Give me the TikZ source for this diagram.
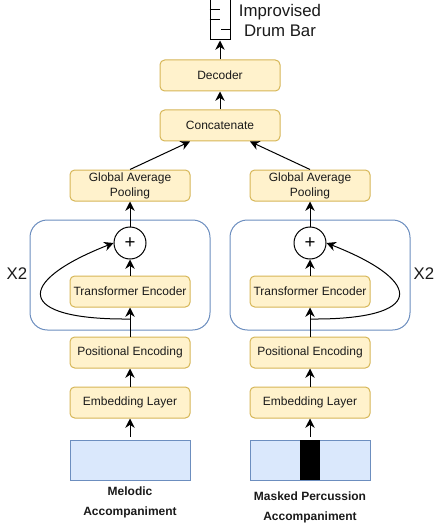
\documentclass[tikz,border=0pt]{standalone}
\usepackage{fontspec}
\setmainfont{Liberation Sans}
\usetikzlibrary{arrows.meta, calc}
\definecolor{blockFill}{HTML}{FFF2CC}
\definecolor{blockDraw}{HTML}{D6B656}
\definecolor{inputFill}{HTML}{DAE8FC}
\definecolor{inputDraw}{HTML}{6C8EBF}
\definecolor{textDark}{HTML}{1A1A1A}

\begin{document}
\begin{tikzpicture}[
  x=0.75pt, y=-0.75pt,
  block/.style={
    rectangle, rounded corners=3.5pt,
    minimum width=90pt, minimum height=23.25pt, inner sep=0pt,
    draw=blockDraw, line width=0.75pt,
    fill=blockFill, text=textDark, align=center,
    font=\fontsize{9}{11.25}\selectfont
  },
  repeatbox/.style={
    rectangle, rounded corners=13pt,
    minimum width=135pt, minimum height=82.5pt,
    draw=inputDraw, line width=0.75pt
  },
  inputbox/.style={
    rectangle, minimum width=90pt, minimum height=30pt, inner sep=0pt,
    draw=inputDraw, line width=0.75pt, fill=inputFill
  },
  addcircle/.style={
    circle, minimum size=24pt, inner sep=0pt,
    draw=black, line width=0.75pt, fill=white,
    font=\fontsize{14}{14}\selectfont
  },
  caption/.style={
    align=center, inner sep=0pt, text=textDark,
    font=\fontsize{9}{15}\selectfont\bfseries
  },
  bigtext/.style={
    align=center, inner sep=0pt, text=textDark,
    font=\fontsize{12.6}{15}\selectfont
  },
  flow/.style={
    draw=black, line width=0.75pt, -{Stealth[length=7pt, width=7pt]}
  },
]
\useasboundingbox (0,0) rectangle (441,531);

% === OUTPUT ===
\node[rectangle, minimum width=15pt, minimum height=30pt, inner sep=0pt,
  draw=black, line width=0.75pt, fill=white] (bar) at (220,20) {};
\draw[line width=0.75pt] (bar.west |- 0,10) -- ++(10,0);
\draw[line width=0.75pt] (bar.west |- 0,20) -- ++(10,0);
\draw[line width=0.75pt] (bar.east |- 0,30) -- ++(-10,0);
\node[bigtext] (title) at (280,20) {Improvised\\[0pt]Drum Bar};

\node[block] (decoder) at (220,75.5) {Decoder};
\node[block] (concat) at (220,125.5) {Concatenate};

% === LEFT BRANCH ===
\node[repeatbox] (rep1) at (120,275) {};
\node[bigtext] (x1) at (17,274) {X2};
\node[block] (pool1) at (130,185.5) {\raisebox{-1pt}{Global Average}\\\raisebox{-1pt}{Pooling}};
\node[addcircle] (add1) at (130,243) {+};
\node[block] (enc1) at (130,291.5) {Transformer Encoder};
\node[block] (pos1) at (130,352.5) {Positional Encoding};
\node[block] (emb1) at (130,402.5) {Embedding Layer};
\node[inputbox] (in1) at (130,460) {};
\node[caption] (cap1) at (130,502) {Melodic\\Accompaniment};
\coordinate (tap1) at (130,319);

% === RIGHT BRANCH ===
\node[repeatbox] (rep2) at (320,275) {};
\node[bigtext] (x2) at (424,274) {X2};
\node[block] (pool2) at (310,185.5) {\raisebox{-1pt}{Global Average}\\\raisebox{-1pt}{Pooling}};
\node[addcircle] (add2) at (310,243) {+};
\node[block] (enc2) at (310,291.5) {Transformer Encoder};
\node[block] (pos2) at (310,352.5) {Positional Encoding};
\node[block] (emb2) at (310,402.5) {Embedding Layer};
\node[inputbox] (in2) at (310,460) {};
\node[rectangle, minimum width=15pt, minimum height=30pt, inner sep=0pt,
  fill=black] (mask) at (310,460) {};
\node[caption] (cap2) at (310,507) {Masked Percussion\\Accompaniment};
\coordinate (tap2) at (310,319);

% Arrows up each branch
\foreach \i in {1,2} {
  \draw[flow, shorten <=2.25pt] (in\i) -- (emb\i);
  \draw[flow] (emb\i) -- (pos\i);
  \draw[flow] (pos\i) -- (enc\i);
  \draw[flow] (enc\i) -- (add\i);
  \draw[flow] (add\i) -- (pool\i);
}

% Skip connections round the encoders
\draw[flow] (tap1) .. controls (15,320) and (14,282) .. (add1.west);
\draw[flow] (tap2) .. controls (425,320) and (426,282) .. (add2.east);

% Merge and output
\draw[flow] (pool1.north) -- ($(concat.south)+(-30,0)$);
\draw[flow] (pool2.north) -- ($(concat.south)+(30,0)$);
\draw[flow] (concat) -- (decoder);
\draw[flow] (decoder) -- (bar);

\end{tikzpicture}
\end{document}
